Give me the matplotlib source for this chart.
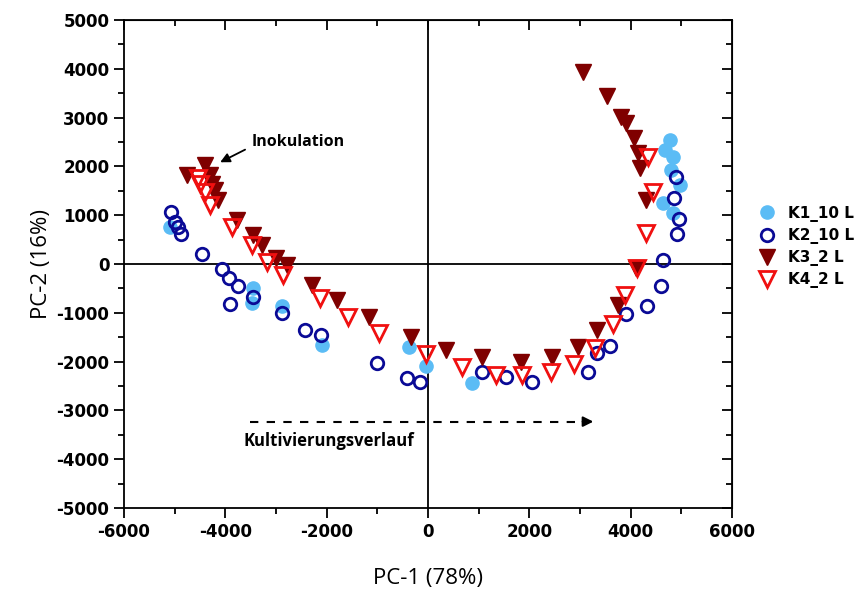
import numpy as np
import matplotlib.pyplot as plt
from matplotlib.ticker import MultipleLocator

plt.rcParams['font.family'] = ['Open Sans', 'DejaVu Sans']
plt.rcParams['axes.unicode_minus'] = False

# K1_10 L (light blue, filled circles)
k1_x = [-5100, -3460, -3480, -2890, -2100, -370, -40, 870,
        4780, 4680, 4840, 4800, 4980, 4640, 4840]
k1_y = [760, -500, -800, -860, -1660, -1700, -2100, -2440,
        2540, 2340, 2190, 1920, 1620, 1250, 1050]

# K2_10 L (navy, open circles)
k2_x = [-5080, -5000, -4940, -4880, -4450, -4070, -3920, -3740, -3460, -3900,
        -2890, -2420, -2120, -1000, -410, -160, 1060, 1550, 2050, 3150,
        3330, 3600, 3910, 4330, 4600, 4640, 4920, 4960, 4860, 4900]
k2_y = [1070, 860, 760, 620, 200, -100, -280, -450, -680, -820,
        -1010, -1350, -1450, -2020, -2340, -2420, -2220, -2310, -2420, -2220,
        -1820, -1680, -1030, -860, -450, 80, 620, 920, 1350, 1790]

# K3_2 L (dark red, filled down triangles)
k3_x = [-4410, -4760, -4310, -4270, -4210, -4150, -3760, -3460, -3270, -2990,
        -2790, -2280, -1790, -1160, -330, 350, 1060, 1830, 2440, 2970,
        3330, 3760, 4110, 4310, 4190, 4150, 4070, 3910, 3820, 3540, 3070]
k3_y = [2030, 1820, 1820, 1650, 1510, 1310, 900, 600, 390, 120,
        -20, -430, -740, -1090, -1490, -1760, -1900, -2010, -1900, -1700,
        -1350, -840, -80, 1310, 1970, 2270, 2580, 2890, 3010, 3440, 3930]

# K4_2 L (red, open down triangles)
k4_x = [-4540, -4500, -4410, -4310, -3860, -3480, -3170, -2870, -2140, -1570,
        -960, -40, 670, 1340, 1850, 2420, 2890, 3300, 3660, 3890,
        4130, 4310, 4450, 4350]
k4_y = [1760, 1650, 1470, 1210, 760, 390, 40, -220, -700, -1090,
        -1410, -1840, -2110, -2280, -2280, -2220, -2040, -1720, -1230, -640,
        -80, 630, 1470, 2200]

fig = plt.figure(figsize=(8.55, 5.9), dpi=100)
ax = fig.add_axes([0.145, 0.139, 0.711, 0.827])

ax.axhline(0, color='black', lw=1.3, zorder=1)
ax.axvline(0, color='black', lw=1.3, zorder=1)

ax.plot(k1_x, k1_y, 'o', ms=9.5, color='#5bbcf5', mec='#5bbcf5',
        label='K1_10 L', zorder=2)
ax.plot(k2_x, k2_y, 'o', ms=9, mfc='none', mec='#0a0a96', mew=2,
        label='K2_10 L', zorder=3)
ax.plot(k3_x, k3_y, 'v', ms=11.5, color='#7f0000', mec='#7f0000',
        label='K3_2 L', zorder=4)
ax.plot(k4_x, k4_y, 'v', ms=11, mfc='none', mec='#f01010', mew=2,
        label='K4_2 L', zorder=5)

ax.set_xlim(-6000, 6000)
ax.set_ylim(-5000, 5000)
ax.xaxis.set_major_locator(MultipleLocator(2000))
ax.xaxis.set_minor_locator(MultipleLocator(1000))
ax.yaxis.set_major_locator(MultipleLocator(1000))
ax.yaxis.set_minor_locator(MultipleLocator(500))
ax.tick_params(which='both', direction='out', width=1.3)
ax.tick_params(which='major', length=7)
ax.tick_params(which='minor', length=4)
for lab in ax.get_xticklabels() + ax.get_yticklabels():
    lab.set_fontfamily('DejaVu Sans')
    lab.set_fontweight('bold')
    lab.set_fontsize(12)
for s in ax.spines.values():
    s.set_linewidth(1.3)

# inward ticks on top/right
sec_x = ax.secondary_xaxis('top')
sec_x.xaxis.set_major_locator(MultipleLocator(2000))
sec_x.xaxis.set_minor_locator(MultipleLocator(1000))
sec_x.tick_params(which='both', direction='in', labeltop=False, width=1.3)
sec_x.tick_params(which='major', length=7)
sec_x.tick_params(which='minor', length=4)
sec_y = ax.secondary_yaxis('right')
sec_y.yaxis.set_major_locator(MultipleLocator(1000))
sec_y.yaxis.set_minor_locator(MultipleLocator(500))
sec_y.tick_params(which='both', direction='in', labelright=False, width=1.3)
sec_y.tick_params(which='major', length=7)
sec_y.tick_params(which='minor', length=4)

ax.set_xlabel('PC-1 (78%)', fontsize=16, labelpad=20)
ax.set_ylabel('PC-2 (16%)', fontsize=16, labelpad=3)

# annotations
ax.annotate('', xy=(-4150, 2060), xytext=(-3560, 2370),
            arrowprops=dict(arrowstyle='-|>', color='black', lw=1.3,
                            mutation_scale=14))
ax.text(-3480, 2500, 'Inokulation', fontsize=11.5, fontweight='bold',
        va='center', ha='left')

ax.plot([-3520, 3050], [-3230, -3230], color='black', lw=1.5,
        ls=(0, (4, 4)))
ax.annotate('', xy=(3320, -3230), xytext=(3000, -3230),
            arrowprops=dict(arrowstyle='-|>', color='black', lw=1.5,
                            mutation_scale=15))
ax.text(-3640, -3630, 'Kultivierungsverlauf', fontsize=12,
        fontweight='bold', va='center', ha='left')

ax.legend(loc='center left', bbox_to_anchor=(1.01, 0.535), frameon=False,
          handletextpad=0.4, labelspacing=0.4,
          prop={'family': 'DejaVu Sans', 'weight': 'bold', 'size': 11})

fig.savefig('out.png', dpi=100)
